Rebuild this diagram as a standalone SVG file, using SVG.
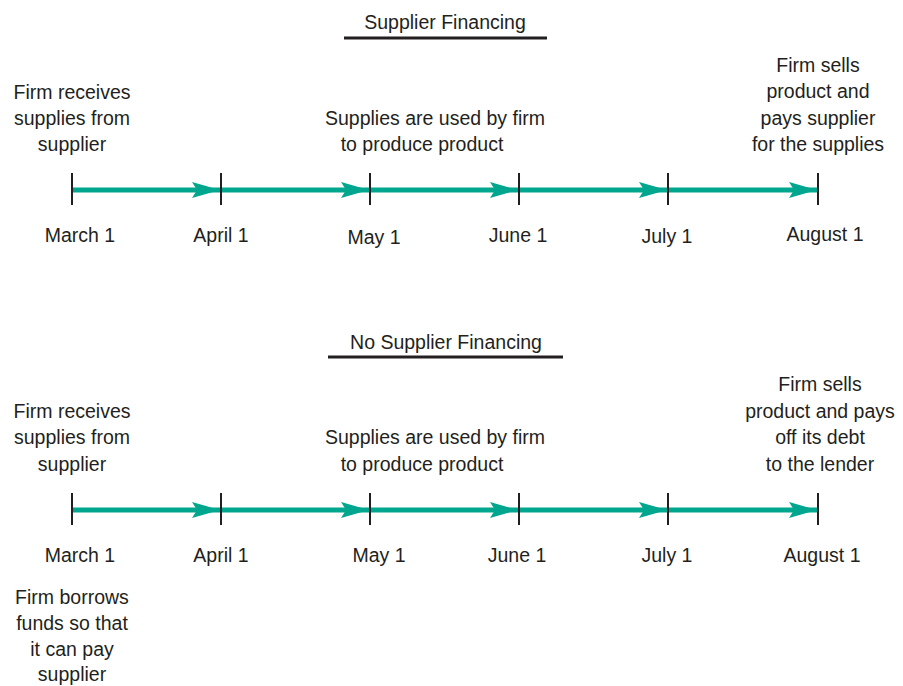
<svg xmlns="http://www.w3.org/2000/svg" width="903" height="686" viewBox="0 0 903 686">
<style>
text{font-family:"Liberation Sans",Arial,sans-serif;font-size:19.5px;fill:#231f20;text-anchor:middle}
.tick{stroke:#231f20;stroke-width:2}
.ul{stroke:#231f20;stroke-width:3}
.arr{stroke:#00a78e;stroke-width:5;fill:none;marker-end:url(#ah)}
</style>
<defs>
<marker id="ah" markerUnits="userSpaceOnUse" markerWidth="30" markerHeight="18" refX="28" refY="8" orient="auto" viewBox="0 0 30 16">
<path d="M0,0 L28,8 L0,16 L5,8 Z" fill="#00a78e"/>
</marker>
</defs>
<rect width="903" height="686" fill="#fff"/>
<g id="connectors">
<line class="arr" x1="72" y1="190" x2="220" y2="190"/>
<line class="arr" x1="221" y1="190" x2="369" y2="190"/>
<line class="arr" x1="370" y1="190" x2="518" y2="190"/>
<line class="arr" x1="519" y1="190" x2="667" y2="190"/>
<line class="arr" x1="668" y1="190" x2="817" y2="190"/>
<line class="arr" x1="72" y1="510" x2="220" y2="510"/>
<line class="arr" x1="221" y1="510" x2="369" y2="510"/>
<line class="arr" x1="370" y1="510" x2="518" y2="510"/>
<line class="arr" x1="519" y1="510" x2="667" y2="510"/>
<line class="arr" x1="668" y1="510" x2="817" y2="510"/>
</g>
<g id="title-top"><text x="445" y="29">Supplier Financing</text><line class="ul" x1="344" y1="38" x2="547" y2="38"/></g>
<g id="top-receive"><text x="72" y="99">Firm receives</text><text x="72" y="125">supplies from</text><text x="72" y="151">supplier</text></g>
<g id="top-use"><text x="435" y="125">Supplies are used by firm</text><text x="422" y="151">to produce product</text></g>
<g id="top-sell"><text x="818" y="72">Firm sells</text><text x="818" y="98">product and</text><text x="818" y="125">pays supplier</text><text x="818" y="151">for the supplies</text></g>
<g id="top-ticks">
<line class="tick" x1="72" y1="173" x2="72" y2="205"/>
<line class="tick" x1="221" y1="173" x2="221" y2="205"/>
<line class="tick" x1="370" y1="173" x2="370" y2="205"/>
<line class="tick" x1="519" y1="173" x2="519" y2="205"/>
<line class="tick" x1="668" y1="173" x2="668" y2="205"/>
<line class="tick" x1="818" y1="173" x2="818" y2="205"/>
</g>
<g id="top-dates">
<text x="80" y="242">March 1</text><text x="221" y="242">April 1</text><text x="374" y="244">May 1</text><text x="518" y="242">June 1</text><text x="667" y="243">July 1</text><text x="825" y="241">August 1</text>
</g>
<g id="title-bottom"><text x="446" y="349">No Supplier Financing</text><line class="ul" x1="328" y1="357" x2="563" y2="357"/></g>
<g id="bot-receive"><text x="72" y="418">Firm receives</text><text x="72" y="444">supplies from</text><text x="72" y="471">supplier</text></g>
<g id="bot-use"><text x="435" y="444">Supplies are used by firm</text><text x="422" y="471">to produce product</text></g>
<g id="bot-sell"><text x="820" y="391">Firm sells</text><text x="820" y="418">product and pays</text><text x="820" y="444">off its debt</text><text x="820" y="471">to the lender</text></g>
<g id="bot-ticks">
<line class="tick" x1="72" y1="493" x2="72" y2="525"/>
<line class="tick" x1="221" y1="493" x2="221" y2="525"/>
<line class="tick" x1="370" y1="493" x2="370" y2="525"/>
<line class="tick" x1="519" y1="493" x2="519" y2="525"/>
<line class="tick" x1="668" y1="493" x2="668" y2="525"/>
<line class="tick" x1="818" y1="493" x2="818" y2="525"/>
</g>
<g id="bot-dates">
<text x="80" y="562">March 1</text><text x="221" y="562">April 1</text><text x="379" y="562">May 1</text><text x="517" y="562">June 1</text><text x="667" y="562">July 1</text><text x="822" y="562">August 1</text>
</g>
<g id="bot-borrow"><text x="72" y="604">Firm borrows</text><text x="72" y="630">funds so that</text><text x="72" y="656">it can pay</text><text x="72" y="681">supplier</text></g>
</svg>
